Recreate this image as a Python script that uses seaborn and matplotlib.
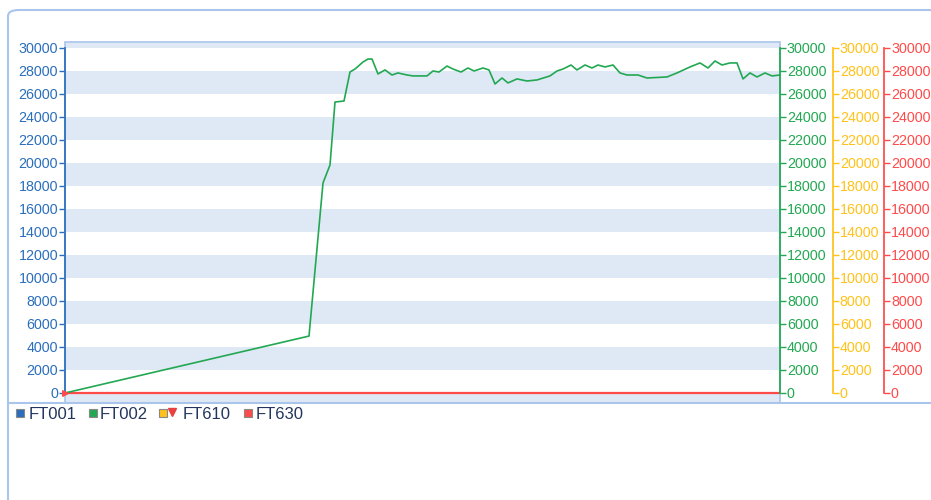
import numpy as np
import pandas as pd
import matplotlib
matplotlib.use("Agg")
import matplotlib.pyplot as plt
import seaborn as sns
from matplotlib.lines import Line2D
from matplotlib.patches import FancyBboxPatch, Rectangle

# --- data (time offset, flow value) ---
t_ft002 = [0, 244, 258, 265, 270, 279, 285, 290, 298, 303, 307, 313, 320, 327,
           333, 342, 348, 362, 368, 374, 382, 388, 396, 403, 409, 418, 424, 430,
           437, 443, 452, 462, 472, 485, 492, 498, 506, 512, 520, 527, 533, 540,
           548, 555, 562, 573, 582, 602, 612, 625, 635, 643, 650, 657, 665, 672,
           678, 685, 692, 700, 707, 715]
v_ft002 = [0, 4950, 18260, 19830, 25300, 25390, 27910, 28170, 28780, 29040,
           29040, 27740, 28090, 27650, 27830, 27650, 27570, 27570, 28000, 27910,
           28430, 28170, 27910, 28260, 28000, 28260, 28090, 26870, 27390, 26960,
           27310, 27130, 27220, 27570, 28000, 28170, 28520, 28090, 28520, 28260,
           28520, 28350, 28520, 27830, 27650, 27650, 27390, 27480, 27830, 28350,
           28700, 28260, 28870, 28520, 28700, 28700, 27310, 27830, 27480, 27830,
           27570, 27650]
t_ft630 = [0, 715]
v_ft630 = [0, 0]
t_ft610 = [0]
v_ft610 = [0]

series_names = ["FT001", "FT002", "FT610", "FT630"]
axis_ticks = list(range(0, 30001, 2000))

BLUE = "#2a6ebd"
GREEN = "#22a852"
YELLOW = "#ffc21a"
RED = "#ff4a4a"
FRAME = "#a9c5ec"
BAND = "#dfe8f5"
LEGEND_TXT = "#23355e"

sns.set_theme(style="white")
plt.rcParams["font.family"] = ["Liberation Sans", "DejaVu Sans"]

fig = plt.figure(figsize=(9.31, 5.0), dpi=100)
W, H = 931, 500
ax = fig.add_axes([65 / W, 1 - 403 / H, (780 - 65) / W, (403 - 42) / H])
ax.set_facecolor("white")

# alternating bands
for lo in range(-2000, 32000, 4000):
    ax.axhspan(lo, lo + 2000, color=BAND, lw=0, zorder=0)

df2 = pd.DataFrame({"t": t_ft002, "v": v_ft002})
df630 = pd.DataFrame({"t": t_ft630, "v": v_ft630})
sns.lineplot(data=df630, x="t", y="v", ax=ax, color=RED, lw=1.6, zorder=3)
sns.lineplot(data=df2, x="t", y="v", ax=ax, color=GREEN, lw=1.2, zorder=4)
ax.scatter(t_ft610, v_ft610, marker=">", s=16, color=RED, zorder=5, clip_on=False)

ax.set_xlim(0, 715)
ax.set_ylim(-870, 30520)
ax.set_xlabel("")
ax.set_ylabel("")
ax.set_xticks([])
ax.set_yticks(axis_ticks)
ax.set_yticklabels([str(v) for v in axis_ticks])
ax.tick_params(axis="y", direction="out", length=4, width=1, color=BLUE,
               labelcolor=BLUE, labelsize=10.3, pad=1)
for s in ["top", "right", "bottom"]:
    ax.spines[s].set_visible(False)
ax.spines["left"].set_color(BLUE)
ax.spines["left"].set_bounds(0, 30000)
ax.add_patch(Rectangle((0, 0), 1, 1, transform=ax.transAxes, fill=False,
                       edgecolor=FRAME, lw=1.2, zorder=1, clip_on=False))

# three right-hand axes
for pos, col in [(1.0, GREEN), (1.074, YELLOW), (1.1455, RED)]:
    tw = ax.twinx()
    tw.set_ylim(ax.get_ylim())
    tw.set_yticks(axis_ticks)
    tw.set_yticklabels([str(v) for v in axis_ticks])
    for s in ["top", "left", "bottom"]:
        tw.spines[s].set_visible(False)
    tw.spines["right"].set_position(("axes", pos))
    tw.spines["right"].set_color(col)
    tw.spines["right"].set_bounds(0, 30000)
    tw.tick_params(axis="y", direction="out", length=4, width=1, color=col,
                   labelcolor=col, labelsize=10.3, pad=1)
    tw.grid(False)

# outer panel frame and separator
fig.patches.append(FancyBboxPatch((8 / W, -0.1), 1.2, 1 - 10 / H + 0.1,
                                  boxstyle="round,pad=0,rounding_size=0.012",
                                  transform=fig.transFigure, fill=False,
                                  edgecolor=FRAME, lw=1.5))
fig.add_artist(Line2D([8 / W, 1], [1 - 403 / H] * 2, transform=fig.transFigure,
                      color=FRAME, lw=1.5))

# legend row below the plot
leg_y = 1 - 413 / H
swatch_cols = [BLUE, GREEN, YELLOW, RED]
swatch_x = [20, 93, 163, 248]
text_x = [29, 100, 183, 256]
for name, col, sx, tx in zip(series_names, swatch_cols, swatch_x, text_x):
    fig.add_artist(Line2D([sx / W], [leg_y], transform=fig.transFigure, marker="s",
                          ls="", markersize=5.5, markerfacecolor=col,
                          markeredgecolor="#888888", markeredgewidth=0.8))
    fig.text(tx / W, leg_y, name, fontsize=12, color=LEGEND_TXT, ha="left",
             va="center_baseline")
fig.add_artist(Line2D([172 / W], [leg_y + 1 / H], transform=fig.transFigure,
                      marker="v", ls="", markersize=5.5, color="#e84040"))

fig.savefig("out.png", dpi=100)
